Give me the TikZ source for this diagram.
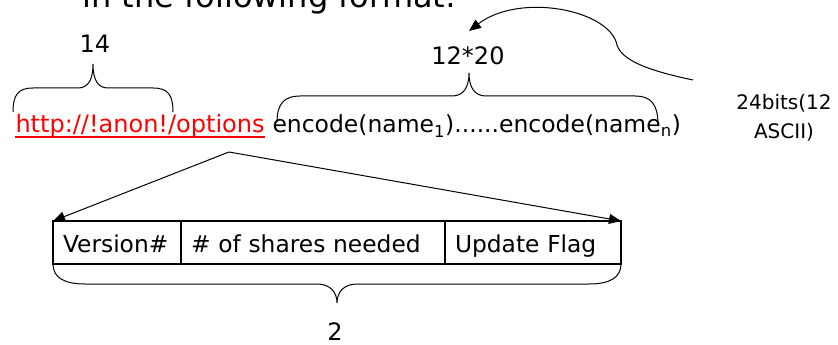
\documentclass[tikz,border=0pt]{standalone}
\usepackage{fontspec}
\setmainfont{DejaVu Sans}
\usetikzlibrary{arrows.meta,positioning}

\tikzset{
  lbl/.style={inner sep=0pt, font=\fontsize{18}{22}\selectfont},
  field/.style={draw, line width=0.9pt, outer sep=0pt, inner xsep=7.5pt, inner ysep=0pt,
    text height=17pt, text depth=2pt, minimum height=32.25pt, align=left,
    font=\fontsize{17.5}{21}\selectfont},
  tip/.style={-{Triangle[length=9pt,width=7.5pt]}},
}

\begin{document}
\begin{tikzpicture}[x=0.75pt, y=-0.75pt, line width=0.75pt]
    \useasboundingbox (0,0) rectangle (838,345);
    % heading, cut off by the top edge
    \node[lbl, font=\fontsize{24}{28}\selectfont, anchor=base west] (head) at (82,8) {in the following format:};

    % first line
    \node[lbl, anchor=base west, text=red] (url) at (15,133) {http://!anon!/options};
    \draw[red, line width=1pt] ([yshift=-3pt]url.base west) -- ([yshift=-3pt]url.base east);
    \node[lbl, font=\fontsize{17.6}{22}\selectfont, anchor=base west] (names) at (272,133)
        {encode(name\textsubscript{1})......encode(name\textsubscript{n})};
    \node[lbl, anchor=base] (urllen) at (95,53) {14};
    \node[lbl, anchor=base] (namelen) at (468,65) {12*20};
    \node[lbl, font=\fontsize{15}{21.75}\selectfont, align=center, anchor=north] (ascii) at (784,94)
        {24bits(12\\ASCII)};

    % braces
    \draw (13,112) .. controls (13,95) and (18,88) .. (33,88) -- (78,88)
        .. controls (88,88) and (93,80) .. (93,64)
        .. controls (93,80) and (98,88) .. (108,88) -- (153,88)
        .. controls (168,88) and (173,95) .. (173,112);
    \draw (277,122) .. controls (277,103) and (285,96) .. (300,96) -- (452,96)
        .. controls (463,96) and (469,88) .. (469,73)
        .. controls (469,88) and (475,96) .. (486,96) -- (635,96)
        .. controls (650,96) and (658,103) .. (658,125);

    % option fields
    \node[field, text width=81pt, anchor=north west] (ver) at (53,221) {Version\#};
    \node[field, text width=183pt, right=0pt of ver] (shares) {\# of shares needed};
    \node[field, text width=117pt, right=0pt of shares] (flag) {Update Flag};
    \node[lbl, anchor=base] (optlen) at (335,340) {2};

    \draw (ver.south west) .. controls (53,278) and (65,284) .. (85,284) -- (317,284)
        .. controls (330,284) and (337,292) .. (337,303)
        .. controls (337,292) and (344,284) .. (357,284) -- (589,284)
        .. controls (609,284) and (621,278) .. (flag.south east);

    % arrows
    \coordinate (apex) at (229,152);
    \draw[tip] (apex) -- (ver.north west);
    \draw[tip] (apex) -- (flag.north east);
    \coordinate (from) at (693,80);
    \coordinate (to) at (469,31);
    \draw[tip] (from) .. controls (655,72) and (622,62) .. (617,45)
        .. controls (610,10) and (520,-8) .. (to);
\end{tikzpicture}
\end{document}
